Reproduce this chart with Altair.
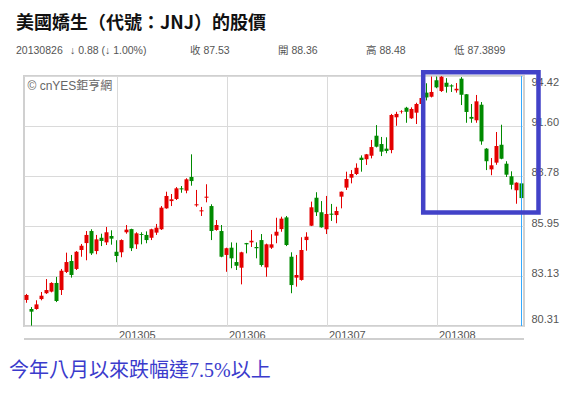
import altair as alt
import pandas as pd

# ---- data (daily candles, 2013-04-05 .. 2013-08-26) ----
OPEN = [81.78, 81.27, 81.27, 81.83, 82.16, 82.25, 82.74, 82.34, 83.36, 83.98,
        83.53, 84.60, 84.99, 85.67, 84.54, 85.29, 85.03, 85.39, 84.50, 84.47,
        85.60, 85.78, 84.92, 85.50, 85.45, 85.29, 85.58, 85.77, 86.95, 87.36,
        87.48, 88.08, 87.95, 88.72, 87.12, 86.78, 87.55, 87.08, 85.73, 85.67,
        84.32, 84.73, 83.92, 83.60, 84.99, 85.03, 84.77, 85.16, 83.62, 84.73,
        85.41, 85.78, 86.44, 84.22, 83.04, 82.91, 85.16, 85.97, 87.55, 86.73,
        85.77, 86.65, 86.57, 87.61, 88.12, 88.68, 88.89, 89.81, 89.72, 89.92,
        91.05, 90.58, 90.32, 90.24, 92.09, 92.39, 92.63, 92.03, 92.35, 92.84,
        93.48, 93.25, 94.18, 93.57, 94.04, 93.89, 93.61, 94.27, 93.39, 92.11,
        91.92, 92.80, 90.32, 89.15, 89.53, 90.54, 89.47, 88.76, 87.97, 88.36]
HIGH = [82.12, 81.38, 81.76, 82.23, 82.96, 82.78, 83.08, 83.53, 84.45, 84.32,
        84.54, 84.94, 85.67, 85.77, 85.45, 85.52, 85.90, 85.71, 85.15, 85.20,
        86.01, 85.80, 85.60, 85.60, 85.65, 85.80, 86.07, 87.08, 87.89, 87.76,
        88.15, 88.21, 88.65, 90.00, 87.99, 87.03, 88.31, 87.18, 86.29, 86.01,
        84.73, 85.03, 85.01, 84.50, 85.00, 85.73, 85.03, 85.50, 84.96, 85.49,
        86.42, 86.48, 86.52, 84.47, 84.32, 85.32, 85.60, 87.33, 87.86, 87.36,
        87.65, 87.20, 87.04, 87.90, 89.02, 89.11, 89.49, 89.94, 90.02, 90.81,
        91.65, 90.98, 90.96, 92.28, 92.40, 92.49, 92.68, 92.65, 92.91, 93.29,
        94.01, 94.39, 94.39, 94.41, 94.30, 93.95, 94.02, 94.36, 93.40, 92.84,
        93.35, 92.95, 90.35, 89.79, 91.26, 91.67, 89.61, 89.04, 88.42, 88.48]
LOW = [81.62, 80.33, 81.23, 81.76, 82.12, 82.21, 81.66, 82.06, 83.30, 83.04,
       83.47, 84.22, 84.02, 84.32, 84.36, 84.82, 84.88, 84.90, 83.91, 84.19,
       85.52, 84.54, 84.66, 84.92, 84.98, 85.16, 85.45, 85.73, 86.93, 87.08,
       87.42, 87.83, 87.80, 88.23, 87.04, 86.52, 87.29, 85.16, 85.69, 84.19,
       83.37, 83.57, 83.47, 82.66, 84.41, 84.77, 84.13, 83.66, 83.09, 84.66,
       84.98, 85.63, 84.82, 82.16, 82.53, 82.87, 84.56, 85.95, 86.52, 85.86,
       85.50, 86.24, 86.11, 86.95, 87.99, 88.36, 88.83, 89.02, 89.40, 89.77,
       90.39, 89.90, 90.06, 90.06, 91.61, 92.30, 91.78, 92.00, 91.71, 92.61,
       93.04, 93.21, 93.73, 93.52, 93.48, 93.52, 93.48, 92.78, 91.78, 91.78,
       91.78, 90.54, 89.11, 88.82, 89.41, 89.72, 88.72, 88.02, 87.21, 87.39]
CLOSE = [82.06, 81.12, 81.53, 82.02, 82.34, 82.74, 81.72, 83.43, 83.92, 83.19,
         84.50, 84.84, 85.45, 84.41, 85.20, 85.11, 85.60, 85.24, 84.26, 85.16,
         85.75, 84.70, 85.54, 85.45, 85.16, 85.77, 85.86, 86.99, 87.65, 87.46,
         88.08, 88.02, 88.59, 88.49, 87.18, 86.84, 87.61, 85.67, 86.01, 84.22,
         84.70, 84.13, 83.71, 84.47, 84.92, 85.12, 84.70, 83.75, 84.92, 84.92,
         85.63, 86.37, 84.88, 82.62, 83.19, 84.60, 85.35, 87.01, 86.73, 85.88,
         86.63, 86.59, 86.80, 87.89, 88.61, 88.89, 89.24, 89.68, 90.00, 90.41,
         90.43, 90.15, 90.19, 92.22, 92.28, 92.42, 92.40, 92.56, 92.84, 93.18,
         93.21, 93.52, 93.78, 94.38, 93.81, 93.83, 93.70, 93.36, 92.39, 92.01,
         92.99, 90.73, 89.61, 89.38, 90.47, 89.75, 88.85, 88.28, 88.40, 87.53]

MONTH_START = [18, 40, 60, 82]
MONTH_LABELS = ["201305", "201306", "201307", "201308"]
Y_LABELS = [80.31, 83.13, 85.95, 88.78, 91.60, 94.42]

TITLE = "美國嬌生（代號：JNJ）的股價"
INFO = ["20130826", "↓ 0.88 (↓ 1.00%)", "收 87.53", "開 88.36", "高 88.48", "低 87.3899"]
INFO_X = [-8, 46, 166, 254, 342, 430]
COPYRIGHT = "© cnYES鉅亨網"
CAPTION = "今年八月以來跌幅達7.5%以上"

UP, DOWN = "#e40000", "#008a00"
W, H = 500, 250

df = pd.DataFrame({"i": list(range(len(OPEN))), "open": OPEN, "high": HIGH,
                   "low": LOW, "close": CLOSE})

grid_vals = sorted(Y_LABELS + [round((a + b) / 2, 3) for a, b in zip(Y_LABELS[:-1], Y_LABELS[1:])])
lab_list = ",".join(str(v) for v in Y_LABELS)

x_scale = alt.Scale(domain=[-0.5, len(OPEN) - 0.5], nice=False, zero=False, padding=0)
y_scale = alt.Scale(domain=[Y_LABELS[0], Y_LABELS[-1]], nice=False, zero=False, padding=0)

month_expr = "''"
for v, lab in reversed(list(zip(MONTH_START, MONTH_LABELS))):
    month_expr = f"datum.value == {v} ? '{lab}' : ({month_expr})"

x_axis = alt.Axis(values=MONTH_START, labelExpr=month_expr, grid=True, gridColor="#dadada",
                  gridWidth=1, domain=False, ticks=False, labelAlign="left", labelOffset=2,
                  labelPadding=3, labelBaseline="top", labelFont="Liberation Sans",
                  labelFontSize=11, labelColor="#555555", title=None, labelFlush=False,
                  labelOverlap=False)
y_axis = alt.Axis(orient="right", values=grid_vals,
                  labelExpr=f"indexof([{lab_list}], datum.value) >= 0 ? format(datum.value, '.2f') : ''",
                  grid=True, gridColor="#dadada", gridWidth=1, domain=False, ticks=False,
                  labelFlush=False,
                  labelBaseline={"condition": {"test": f"datum.value >= {Y_LABELS[-1]}", "value": "top"},
                                 "value": "alphabetic"},
                  labelOffset={"condition": {"test": f"datum.value <= {Y_LABELS[0]}", "value": -4},
                               "value": 0},
                  labelPadding=7,
                  labelFont="Liberation Sans", labelFontSize=11, labelColor="#555555",
                  title=None, labelOverlap=False)

base = alt.Chart(df).transform_calculate(
    dir="datum.close >= datum.open ? 'up' : 'down'"
)
color = alt.Color("dir:N", scale=alt.Scale(domain=["up", "down"], range=[UP, DOWN]), legend=None)

wicks = base.mark_rule(strokeWidth=1).encode(
    x=alt.X("i:Q", scale=x_scale, axis=x_axis),
    y=alt.Y("low:Q", scale=y_scale, axis=y_axis),
    y2="high:Q",
    color=color,
)
bodies = base.mark_bar(size=4).encode(
    x=alt.X("i:Q", scale=x_scale),
    y=alt.Y("open:Q", scale=y_scale),
    y2="close:Q",
    color=color,
)
cursor = alt.Chart(df).transform_filter(f"datum.i == {len(OPEN) - 1}").mark_rule(
    color="#33aaff", strokeWidth=1
).encode(x=alt.X("i:Q", scale=x_scale), y=alt.value(0), y2=alt.value(H))

one = pd.DataFrame({"k": [0]})
box = alt.Chart(one).mark_rect(filled=False, stroke="#4242c8", strokeWidth=4.5).encode(
    x=alt.value(399.2), x2=alt.value(514.5), y=alt.value(-3.8), y2=alt.value(136.5)
)
nav_line = alt.Chart(one).mark_rule(color="#cfcfcf", strokeWidth=2).encode(
    x=alt.value(0), x2=alt.value(W), y=alt.value(263)
)

title = alt.Chart(one).mark_text(
    text=TITLE, x=-8, y=-47, align="left", baseline="alphabetic",
    font="Noto Sans CJK TC", fontSize=18, fontWeight="bold", color="#111111"
)
info_layers = [
    alt.Chart(one).mark_text(
        text=t, x=xp, y=-22, align="left", baseline="alphabetic",
        font="Liberation Sans, Noto Sans CJK TC", fontSize=10.5, color="#555555"
    )
    for t, xp in zip(INFO, INFO_X)
]
copyright_txt = alt.Chart(one).mark_text(
    text=COPYRIGHT, x=3.5, y=14, align="left", baseline="alphabetic",
    font="Liberation Sans, Noto Sans CJK TC", fontSize=12, color="#666666"
)
caption = alt.Chart(one).mark_text(
    text=CAPTION, x=-15, y=301, align="left", baseline="alphabetic",
    font="Liberation Serif, Noto Sans CJK TC", fontSize=20, color="#3b3bcc"
)

chart = alt.layer(
    wicks, bodies, cursor, nav_line, copyright_txt, box, title, *info_layers, caption
).properties(
    width=W, height=H,
    autosize=alt.AutoSizeParams(type="none"),
    padding={"left": 16, "top": 68, "right": 40, "bottom": 64},
    background="white",
).configure_view(stroke="#d0d0d0", strokeWidth=2)

chart.save("out.html", embed_options={"renderer": "svg", "actions": False})
